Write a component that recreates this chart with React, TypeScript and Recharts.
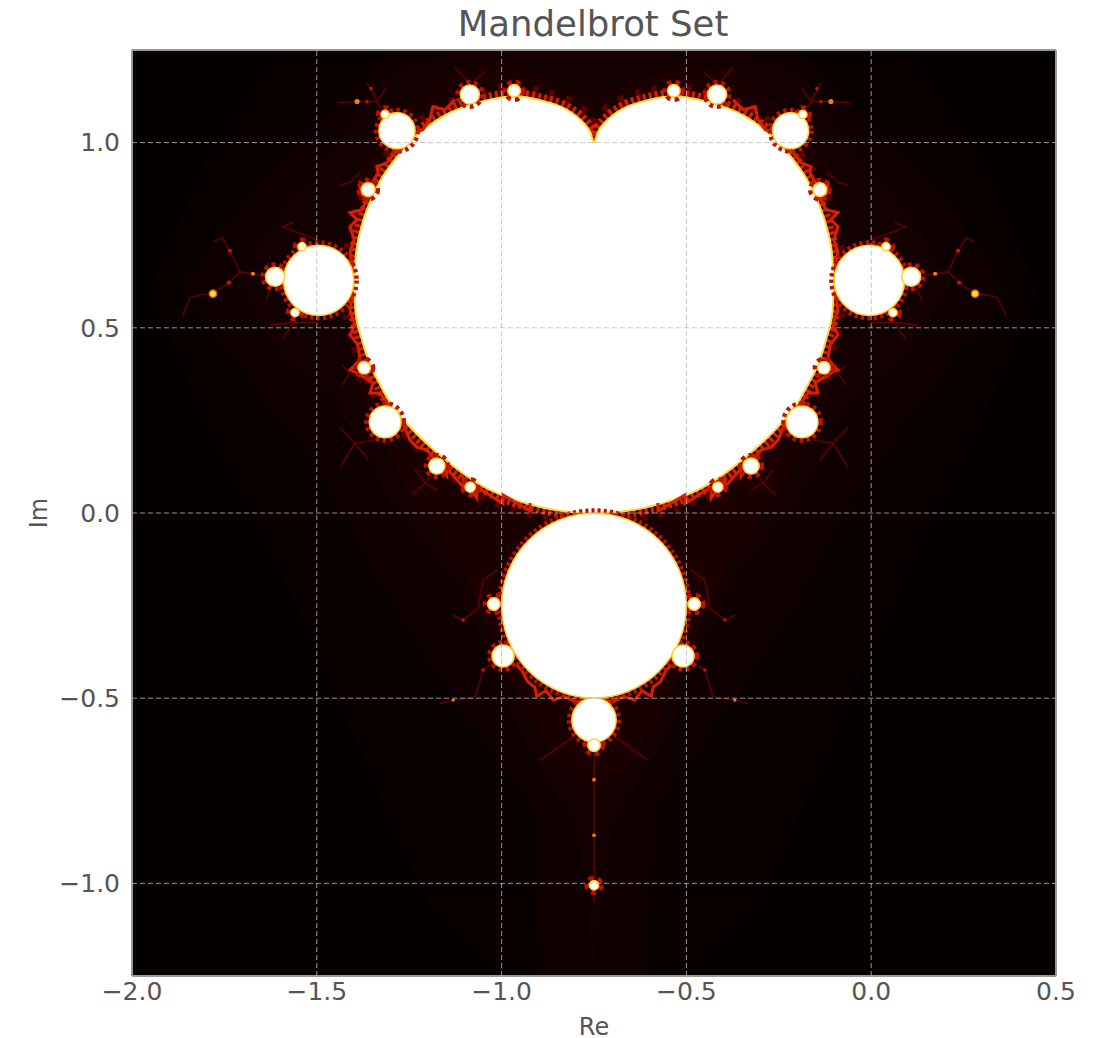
import React from 'react';
import { ComposedChart, Area, Line, Scatter, XAxis, YAxis, ZAxis, ReferenceLine } from 'recharts';

const xTicks = [-2, -1.5, -1, -0.5, 0, 0.5];
const yTicks = [-1, -0.5, 0, 0.5, 1];

// Main body outline: Re position, lower and upper Im edge
const bodyX = [-1.4, -1.395, -1.38, -1.36, -1.328, -1.3, -1.25, -1.157, -1.05, -0.966, -0.89, -0.825, -0.78, -0.76, -0.75, -0.74, -0.72, -0.675, -0.61, -0.534, -0.45, -0.343, -0.25, -0.2, -0.172, -0.14, -0.12, -0.105, -0.1];
const bodyLow = [0.625, 0.54, 0.475, 0.41, 0.345, 0.295, 0.235, 0.148, 0.072, 0.036, 0.015, 0.004, 0.001, 0, 0, 0, 0.001, 0.004, 0.015, 0.036, 0.072, 0.148, 0.235, 0.295, 0.345, 0.41, 0.475, 0.54, 0.625];
const bodyHigh = [0.625, 0.69, 0.77, 0.83, 0.898, 0.94, 1.0, 1.072, 1.112, 1.125, 1.113, 1.09, 1.055, 1.028, 1.0, 1.028, 1.055, 1.09, 1.113, 1.125, 1.112, 1.072, 1.0, 0.94, 0.898, 0.83, 0.77, 0.69, 0.625];

// Background glow bands
const glowAX = [-1.95, -1.8, -1.6, -1.4, -1.2, -1.0, -0.75, -0.5, -0.3, -0.1, 0.1, 0.3, 0.45];
const glowALow = [0.6, 0.25, -0.15, -0.6, -1.05, -1.25, -1.25, -1.25, -1.05, -0.6, -0.15, 0.25, 0.6];
const glowAHigh = [0.6, 0.95, 1.25, 1.25, 1.25, 1.25, 1.25, 1.25, 1.25, 1.25, 1.25, 0.95, 0.6];
const glowBX = [-1.87, -1.7, -1.5, -1.3, -1.1, -0.92, -0.9, -0.75, -0.6, -0.58, -0.4, -0.2, 0, 0.2, 0.37];
const glowBLow = [0.6, 0.38, 0.12, -0.25, -0.55, -0.8, -1.25, -1.25, -1.25, -0.8, -0.55, -0.25, 0.12, 0.38, 0.6];
const glowBHigh = [0.6, 0.85, 1.05, 1.25, 1.25, 1.25, 1.25, 1.25, 1.25, 1.25, 1.25, 1.25, 1.05, 0.85, 0.6];
const glowCX = [-1.72, -1.6, -1.45, -1.3, -1.12, -0.95, -0.8, -0.75, -0.7, -0.55, -0.38, -0.2, -0.05, 0.1, 0.22];
const glowCLow = [0.62, 0.42, 0.3, 0.02, -0.2, -0.6, -0.85, -1.25, -0.85, -0.6, -0.2, 0.02, 0.3, 0.42, 0.62];
const glowCHigh = [0.62, 0.82, 1.0, 1.2, 1.25, 1.25, 1.25, 1.25, 1.25, 1.25, 1.25, 1.2, 1.0, 0.82, 0.62];
const glowDX = [-1.45, -1.38, -1.25, -1.12, -0.98, -0.85, -0.75, -0.65, -0.52, -0.38, -0.25, -0.12, -0.05];
const glowDLow = [0.62, 0.3, 0.05, -0.12, -0.45, -0.68, -0.75, -0.68, -0.45, -0.12, 0.05, 0.3, 0.62];
const glowDHigh = [0.62, 0.95, 1.1, 1.2, 1.22, 1.16, 1.12, 1.16, 1.22, 1.2, 1.1, 0.95, 0.62];

// Round bulbs: position and area, in axis units
const bulbX = [-1.495, -0.005, -1.613, 0.108, -0.75, -0.75, -0.75, -0.75, -1.283, -0.218, -1.315, -0.187, -1.086, -0.417, -0.966, -0.534, -1.361, -0.139, -1.372, -0.128, -1.175, -0.325, -1.085, -0.415, -0.996, -0.509, -1.021, -0.479, -1.54, 0.04, -1.559, 0.059, -1.315, -0.185];
const bulbY = [0.628, 0.628, 0.638, 0.638, -0.25, -0.559, -0.627, -1.005, 1.032, 1.032, 0.246, 0.246, 1.13, 1.13, 1.14, 1.14, 0.873, 0.873, 0.392, 0.392, 0.127, 0.127, 0.07, 0.07, -0.386, -0.386, -0.246, -0.246, 0.719, 0.719, 0.541, 0.541, 1.076, 1.076];
const bulbArea = [0.0284, 0.0284, 0.0021, 0.0021, 0.196, 0.0113, 0.0009, 0.0005, 0.0075, 0.0075, 0.0058, 0.0058, 0.0021, 0.0021, 0.0009, 0.0009, 0.0011, 0.0011, 0.0009, 0.0009, 0.0015, 0.0015, 0.0006, 0.0006, 0.0028, 0.0028, 0.0009, 0.0009, 0.0004, 0.0004, 0.0004, 0.0004, 0.0004, 0.0004];

// Thin branching filaments, each as [x, y] pairs
const filaments: number[][][] = [
  [[-1.643, 0.641], [-1.708, 0.651], [-1.722, 0.68], [-1.735, 0.708], [-1.756, 0.743], [-1.781, 0.732]],
  [[-1.708, 0.651], [-1.738, 0.622], [-1.781, 0.592], [-1.81, 0.59], [-1.843, 0.581], [-1.865, 0.53]],
  [[0.143, 0.641], [0.208, 0.651], [0.222, 0.68], [0.235, 0.708], [0.256, 0.743], [0.281, 0.732]],
  [[0.208, 0.651], [0.238, 0.622], [0.281, 0.592], [0.31, 0.59], [0.343, 0.581], [0.365, 0.53]],
  [[-1.445, 1.108], [-1.391, 1.111], [-1.337, 1.111], [-1.31, 1.149]],
  [[-1.364, 1.162], [-1.337, 1.111], [-1.321, 1.084]],
  [[-0.055, 1.108], [-0.109, 1.111], [-0.163, 1.111], [-0.19, 1.149]],
  [[-0.136, 1.162], [-0.163, 1.111], [-0.179, 1.084]],
  [[-1.126, 1.203], [-1.085, 1.157], [-1.045, 1.192]],
  [[-1.085, 1.157], [-1.086, 1.13]],
  [[-0.374, 1.203], [-0.415, 1.157], [-0.455, 1.192]],
  [[-0.415, 1.157], [-0.417, 1.13]],
  [[-1.5, 0.738], [-1.554, 0.757], [-1.591, 0.773], [-1.564, 0.784]],
  [[0, 0.738], [0.054, 0.757], [0.091, 0.773], [0.064, 0.784]],
  [[-1.5, 0.514], [-1.564, 0.514], [-1.627, 0.508]],
  [[-1.564, 0.514], [-1.594, 0.468]],
  [[0, 0.514], [0.064, 0.514], [0.127, 0.508]],
  [[0.064, 0.514], [0.094, 0.468]],
  [[-1.632, 0.675], [-1.613, 0.638], [-1.637, 0.575]],
  [[0.132, 0.675], [0.108, 0.638], [0.137, 0.575]],
  [[-1.437, 0.23], [-1.397, 0.189], [-1.437, 0.124]],
  [[-1.361, 0.143], [-1.397, 0.189], [-1.342, 0.197]],
  [[-0.063, 0.23], [-0.103, 0.189], [-0.063, 0.124]],
  [[-0.139, 0.143], [-0.103, 0.189], [-0.158, 0.197]],
  [[-1.234, 0.116], [-1.207, 0.081], [-1.242, 0.049]],
  [[-1.175, 0.062], [-1.207, 0.081], [-1.185, 0.11]],
  [[-0.266, 0.116], [-0.293, 0.081], [-0.258, 0.049]],
  [[-0.325, 0.062], [-0.293, 0.081], [-0.315, 0.11]],
  [[-1.432, 0.4], [-1.41, 0.378], [-1.432, 0.346]],
  [[-1.41, 0.378], [-1.378, 0.351]],
  [[-0.068, 0.4], [-0.09, 0.378], [-0.068, 0.346]],
  [[-0.09, 0.378], [-0.122, 0.351]],
  [[-1.437, 0.886], [-1.41, 0.892], [-1.383, 0.919]],
  [[-0.063, 0.886], [-0.09, 0.892], [-0.117, 0.919]],
  [[-1.131, -0.276], [-1.104, -0.289], [-1.064, -0.257], [-1.05, -0.181], [-1.012, -0.154]],
  [[-0.369, -0.276], [-0.396, -0.289], [-0.436, -0.257], [-0.45, -0.181], [-0.488, -0.154]],
  [[-0.996, -0.386], [-1.05, -0.424], [-1.072, -0.497], [-1.131, -0.505], [-1.167, -0.514]],
  [[-0.509, -0.386], [-0.45, -0.424], [-0.428, -0.497], [-0.369, -0.505], [-0.333, -0.514]],
  [[-0.801, -0.6], [-0.896, -0.668]],
  [[-0.699, -0.6], [-0.604, -0.668]],
  [[-0.75, -0.64], [-0.75, -1.05]],
];

// Bright jagged edges hugging the body and the lower disc
const edges: number[][][] = [
  [[-1.402, 0.665], [-1.41, 0.703], [-1.399, 0.738], [-1.41, 0.773], [-1.391, 0.792], [-1.41, 0.811], [-1.378, 0.819], [-1.364, 0.846], [-1.383, 0.865], [-1.383, 0.892], [-1.356, 0.881], [-1.334, 0.919], [-1.337, 0.935], [-1.31, 0.946], [-1.294, 0.968], [-1.267, 0.986]],
  [[-0.098, 0.665], [-0.09, 0.703], [-0.101, 0.738], [-0.09, 0.773], [-0.109, 0.792], [-0.09, 0.811], [-0.122, 0.819], [-0.136, 0.846], [-0.117, 0.865], [-0.117, 0.892], [-0.144, 0.881], [-0.166, 0.919], [-0.163, 0.935], [-0.19, 0.946], [-0.206, 0.968], [-0.233, 0.986]],
  [[-1.402, 0.595], [-1.41, 0.549], [-1.397, 0.508], [-1.41, 0.481], [-1.389, 0.454], [-1.383, 0.414], [-1.41, 0.386], [-1.391, 0.378], [-1.348, 0.351], [-1.356, 0.324], [-1.329, 0.324], [-1.302, 0.286]],
  [[-0.098, 0.595], [-0.09, 0.549], [-0.103, 0.508], [-0.09, 0.481], [-0.111, 0.454], [-0.117, 0.414], [-0.09, 0.386], [-0.109, 0.378], [-0.152, 0.351], [-0.144, 0.324], [-0.171, 0.324], [-0.198, 0.286]],
  [[-1.302, 0.203], [-1.267, 0.243], [-1.248, 0.197], [-1.229, 0.178], [-1.202, 0.17], [-1.186, 0.151], [-1.148, 0.1], [-1.148, 0.12], [-1.104, 0.07], [-1.104, 0.095], [-1.067, 0.04], [-1.067, 0.07], [-0.996, 0.025], [-0.996, 0.049], [-0.923, 0.005], [-0.923, 0.027]],
  [[-0.198, 0.203], [-0.233, 0.243], [-0.252, 0.197], [-0.271, 0.178], [-0.298, 0.17], [-0.314, 0.151], [-0.352, 0.1], [-0.352, 0.12], [-0.396, 0.07], [-0.396, 0.095], [-0.433, 0.04], [-0.433, 0.07], [-0.504, 0.025], [-0.504, 0.049], [-0.577, 0.005], [-0.577, 0.027]],
  [[-1.24, 1.027], [-1.213, 1.035], [-1.194, 1.062], [-1.186, 1.097], [-1.153, 1.089], [-1.126, 1.116]],
  [[-0.26, 1.027], [-0.287, 1.035], [-0.306, 1.062], [-0.314, 1.097], [-0.347, 1.089], [-0.374, 1.116]],
  [[-0.96, -0.41], [-0.945, -0.425], [-0.93, -0.455], [-0.91, -0.47], [-0.905, -0.495], [-0.88, -0.48], [-0.86, -0.505], [-0.83, -0.495], [-0.8, -0.51], [-0.76, -0.5]],
  [[-0.54, -0.41], [-0.555, -0.425], [-0.57, -0.455], [-0.59, -0.47], [-0.595, -0.495], [-0.62, -0.48], [-0.64, -0.505], [-0.67, -0.495], [-0.7, -0.51], [-0.74, -0.5]],
];

// Isolated specks by colour
const yellowDotX = [-1.781, 0.281];
const yellowDotY = [0.592, 0.592];
const yellowDotArea = [0.0003, 0.0003];
const orangeDotX = [-1.391, -0.109, -1.673, 0.173, -0.75, -0.75, -1.131, -0.369];
const orangeDotY = [1.111, 1.111, 0.646, 0.646, -0.72, -0.87, -0.505, -0.505];
const orangeDotArea = [0.00015, 0.00015, 0.0001, 0.0001, 0.00008, 0.00008, 0.00006, 0.00006];
const redDotX = [-1.735, 0.235, -1.738, 0.238, -1.353, -0.147, -1.364, -0.136, -1.05, -0.45, -1.104, -0.396];
const redDotY = [0.708, 0.708, 0.622, 0.622, 1.146, 1.146, 1.11, 1.11, -0.424, -0.424, -0.289, -0.289];
const redDotArea = [0.0001, 0.0001, 0.0001, 0.0001, 0.00007, 0.00007, 0.00007, 0.00007, 0.00007, 0.00007, 0.00007, 0.00007];

const bands = (xs: number[], lo: number[], hi: number[]) => xs.map((x, i) => ({ x, range: [lo[i], hi[i]] }));
const dots = (xs: number[], ys: number[], a: number[]) => xs.map((x, i) => ({ x, y: ys[i], area: a[i] }));
const body = bands(bodyX, bodyLow, bodyHigh);
const bulbs = dots(bulbX, bulbY, bulbArea);

const fmt = (v: number) => v.toFixed(1).replace('-', '\u2212');
const font = '"DejaVu Sans", sans-serif';
const tickStyle = { fontSize: 25, fill: '#555555', fontFamily: font };
const glow = [
  { key: 'a', data: bands(glowAX, glowALow, glowAHigh), fill: '#090000' },
  { key: 'b', data: bands(glowBX, glowBLow, glowBHigh), fill: '#0e0000' },
  { key: 'c', data: bands(glowCX, glowCLow, glowCHigh), fill: '#130000' },
  { key: 'd', data: bands(glowDX, glowDLow, glowDHigh), fill: '#1a0000' },
];
const gridLine = { stroke: '#b8b8b8', strokeWidth: 1, strokeDasharray: '5 3', zIndex: 2000, strokeOpacity: 0.8 };

export default function App() {
  return (
    <div style={{ position: 'absolute', left: 0, top: 0, width: 1100, height: 1038, background: '#fff' }}>
      <ComposedChart width={1100} height={1038} margin={{ top: 50, right: 44, left: 32, bottom: 0 }}>
        <XAxis dataKey="x" type="number" domain={[-2, 0.5]} ticks={xTicks} interval={0} allowDataOverflow tickFormatter={fmt} tickLine={false} axisLine={{ stroke: '#999999', strokeWidth: 2 }} tick={tickStyle} tickMargin={0} height={62}
          label={{ value: 'Re', position: 'insideBottom', offset: 3, style: { fontSize: 24, fill: '#555555', fontFamily: font } }} />
        <YAxis dataKey="y" type="number" domain={[-1.25, 1.25]} ticks={yTicks} interval={0} allowDataOverflow tickFormatter={fmt} tickLine={false} axisLine={{ stroke: '#999999', strokeWidth: 2 }} tick={tickStyle} tickMargin={6} width={100}
          label={{ value: 'Im', angle: -90, position: 'insideLeft', offset: 6, style: { fontSize: 24, fill: '#555555', fontFamily: font, textAnchor: 'middle' } }} />
        <ZAxis dataKey="area" type="number" domain={[0, 1]} range={[0, 136700]} />

        <ReferenceLine x={0.5} stroke="#999999" strokeWidth={2} />
        <ReferenceLine y={1.25} stroke="#999999" strokeWidth={2} />

        <Area data={[{ x: -2, range: [-1.25, 1.25] }, { x: 0.5, range: [-1.25, 1.25] }]} dataKey="range" type="linear" fill="#050000" fillOpacity={1} stroke="none" isAnimationActive={false} dot={false} activeDot={false} />
        {glow.map((g) => (
          <Area key={g.key} data={g.data} dataKey="range" type="linear" fill={g.fill} fillOpacity={1} stroke="none" isAnimationActive={false} dot={false} activeDot={false} />
        ))}
        <Area data={body} dataKey="range" type="monotone" fill="#600000" fillOpacity={1} stroke="#5a0000" strokeWidth={26} strokeDasharray="5 11" isAnimationActive={false} dot={false} activeDot={false} />
        <Area data={body} dataKey="range" type="monotone" fill="#c01000" fillOpacity={1} stroke="#d82000" strokeWidth={14} strokeDasharray="3 3" isAnimationActive={false} dot={false} activeDot={false} />
        <Area data={body} dataKey="range" type="monotone" fill="#ffffff" fillOpacity={1} stroke="#ffd840" strokeWidth={2} isAnimationActive={false} dot={false} activeDot={false} />

        {filaments.map((f, i) => (
          <Line key={i} data={f.map(([x, y]) => ({ x, y }))} dataKey="y" type="linear" stroke="#5c0000" strokeWidth={1.6} dot={false} activeDot={false} isAnimationActive={false} />
        ))}
        {edges.map((f, i) => (
          <Line key={`e${i}`} data={f.map(([x, y]) => ({ x, y }))} dataKey="y" type="linear" stroke="#d82000" strokeWidth={3} dot={false} activeDot={false} isAnimationActive={false} />
        ))}

        <Scatter data={bulbs} fill="#a00000" stroke="#c01000" strokeWidth={10} strokeDasharray="3 3" isAnimationActive={false} />
        <Scatter data={bulbs} fill="#ffffff" stroke="#ffd030" strokeWidth={1.5} isAnimationActive={false} />
        <Scatter data={dots(redDotX, redDotY, redDotArea)} fill="#d01000" isAnimationActive={false} />
        <Scatter data={dots(orangeDotX, orangeDotY, orangeDotArea)} fill="#f08000" isAnimationActive={false} />
        <Scatter data={dots(yellowDotX, yellowDotY, yellowDotArea)} fill="#ffe040" stroke="#e06000" strokeWidth={1.5} isAnimationActive={false} />

        {xTicks.slice(1, 5).map((v) => <ReferenceLine key={`x${v}`} x={v} {...gridLine} />)}
        {yTicks.map((v) => <ReferenceLine key={`y${v}`} y={v} {...gridLine} />)}

        <text x={593} y={36} textAnchor="middle" style={{ fontSize: 35.5, fill: '#555555', fontFamily: font }}>Mandelbrot Set</text>
      </ComposedChart>
    </div>
  );
}
